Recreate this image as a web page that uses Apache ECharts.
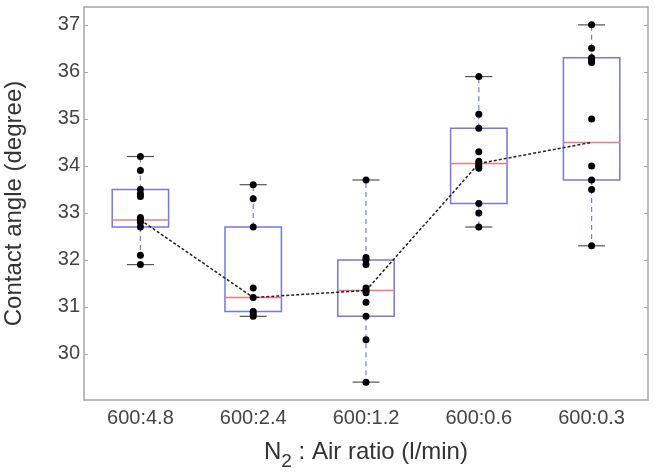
<!DOCTYPE html>
<html>
<head>
<meta charset="utf-8">
<script src="https://cdn.jsdelivr.net/npm/echarts@6/dist/echarts.min.js"></script>
<style>
  html, body { margin: 0; padding: 0; background: #fff; }
</style>
</head>
<body>
<div id="main" style="width:668px;height:472px;"></div>
<script type="text/javascript">
	// N2 : Air ratio 类目
	var categories = ['600:4.8', '600:2.4', '600:1.2', '600:0.6', '600:0.3'];
	// 每组的测量点
	var pts48 = [34.2, 33.9, 33.5, 33.4, 33.35, 32.9, 32.85, 32.8, 32.7, 32.1, 31.9];
	var pts24 = [33.6, 33.3, 32.7, 31.4, 31.2, 30.9, 30.85, 30.8];
	var pts12 = [33.7, 32.05, 32.0, 31.9, 31.4, 31.35, 31.3, 31.1, 30.8, 30.3, 29.4];
	var pts06 = [35.9, 35.1, 34.8, 34.3, 34.1, 34.05, 34.0, 33.95, 33.2, 33.0, 32.7];
	var pts03 = [37.0, 36.5, 36.3, 36.25, 36.2, 35.0, 34.0, 33.7, 33.5, 32.3];
	// 箱线图统计值
	var whiskerLow = [31.9, 30.8, 29.4, 32.7, 32.3];
	var q1 = [32.7, 30.9, 30.8, 33.2, 33.7];
	var median = [32.85, 31.2, 31.35, 34.05, 34.5];
	var q3 = [33.5, 32.7, 32.0, 34.8, 36.3];
	var whiskerHigh = [34.2, 33.6, 33.7, 35.9, 37.0];
	var yTicks = [30, 31, 32, 33, 34, 35, 36, 37];

	var allPts = [pts48, pts24, pts12, pts06, pts03];
	var scatterData = [];
	allPts.forEach(function (arr, i) {
		arr.forEach(function (v) { scatterData.push([i, v]); });
	});
	var boxData = categories.map(function (c, i) {
		return [i, whiskerLow[i], q1[i], median[i], q3[i], whiskerHigh[i]];
	});

	var boxBlue = '#7676ee';
	var medRed = '#f07a7a';
	var frameColor = '#a6a6a6';

	function renderBox(params, api) {
		var x = api.value(0);
		var lo = api.coord([x, api.value(1)]);
		var b1 = api.coord([x, api.value(2)]);
		var md = api.coord([x, api.value(3)]);
		var b3 = api.coord([x, api.value(4)]);
		var hi = api.coord([x, api.value(5)]);
		var band = api.size([1, 0])[0];
		var half = band * 0.25;
		var cap = band * 0.12;
		var cx = lo[0];
		return {
			type: 'group',
			children: [
				{ type: 'line', shape: { x1: cx, y1: b3[1], x2: cx, y2: hi[1] },
				  style: { stroke: boxBlue, lineWidth: 1.2, lineDash: [5, 4] } },
				{ type: 'line', shape: { x1: cx, y1: b1[1], x2: cx, y2: lo[1] },
				  style: { stroke: boxBlue, lineWidth: 1.2, lineDash: [5, 4] } },
				{ type: 'line', shape: { x1: cx - cap, y1: hi[1], x2: cx + cap, y2: hi[1] },
				  style: { stroke: '#555', lineWidth: 1.2 } },
				{ type: 'line', shape: { x1: cx - cap, y1: lo[1], x2: cx + cap, y2: lo[1] },
				  style: { stroke: '#555', lineWidth: 1.2 } },
				{ type: 'rect', shape: { x: cx - half, y: b3[1], width: half * 2, height: b1[1] - b3[1] },
				  style: { fill: 'none', stroke: boxBlue, lineWidth: 1.5 } },
				{ type: 'line', shape: { x1: cx - half, y1: md[1], x2: cx + half, y2: md[1] },
				  style: { stroke: medRed, lineWidth: 1.5 } }
			]
		};
	}

	var myEcharts = echarts.init(document.getElementById('main'));
	var textFont = 'Liberation Sans, Arial, sans-serif';
	myEcharts.setOption({
		animation: false,
		backgroundColor: '#fff',
		grid: { left: 84, right: 20, top: 7, bottom: 72, outerBoundsMode: 'none', containLabel: false },
		xAxis: [
			{
				type: 'category',
				data: categories,
				position: 'bottom',
				name: 'N{sub|2} : Air ratio (l/min)',
				nameLocation: 'middle',
				nameGap: 34,
				nameTextStyle: {
					fontSize: 24, color: '#333', fontFamily: textFont,
					rich: { sub: { fontSize: 19, color: '#333', fontFamily: textFont, verticalAlign: 'bottom', padding: [18, 0, 0, 0] } }
				},
				axisLine: { lineStyle: { color: frameColor, width: 1.5 } },
				axisTick: { inside: true, alignWithLabel: true, length: 4, lineStyle: { color: frameColor } },
				axisLabel: { fontSize: 20, color: '#444', fontFamily: textFont, margin: 8 },
				splitLine: { show: false }
			},
			{
				type: 'category',
				data: categories,
				position: 'top',
				axisLine: { lineStyle: { color: frameColor, width: 1.5 } },
				axisTick: { inside: true, alignWithLabel: true, length: 4, lineStyle: { color: frameColor } },
				axisLabel: { show: false }
			}
		],
		yAxis: [
			{
				type: 'value',
				min: 29.02,
				max: 37.38,
				position: 'left',
				name: 'Contact angle (degree)',
				nameLocation: 'middle',
				nameGap: 58,
				nameTextStyle: { fontSize: 24, color: '#333', fontFamily: textFont },
				axisLine: { show: true, lineStyle: { color: frameColor, width: 1.5 } },
				axisTick: { show: true, inside: true, length: 4, customValues: yTicks, lineStyle: { color: frameColor } },
				axisLabel: { fontSize: 20, color: '#444', fontFamily: textFont, margin: 4, customValues: yTicks },
				splitLine: { show: false }
			},
			{
				type: 'value',
				min: 29.02,
				max: 37.38,
				position: 'right',
				axisLine: { show: true, lineStyle: { color: frameColor, width: 1.5 } },
				axisTick: { show: true, inside: true, length: 4, customValues: yTicks, lineStyle: { color: frameColor } },
				axisLabel: { show: false },
				splitLine: { show: false }
			}
		],
		series: [
			{
				type: 'custom',
				renderItem: renderBox,
				encode: { x: 0, y: [1, 2, 3, 4, 5] },
				data: boxData,
				z: 2
			},
			{
				type: 'line',
				data: median,
				symbol: 'none',
				lineStyle: { color: '#222', width: 1.5, type: [3, 2] },
				z: 3
			},
			{
				type: 'scatter',
				data: scatterData,
				symbolSize: 7,
				itemStyle: { color: '#000', opacity: 1 },
				z: 4
			}
		]
	});
</script>
</body>
</html>
